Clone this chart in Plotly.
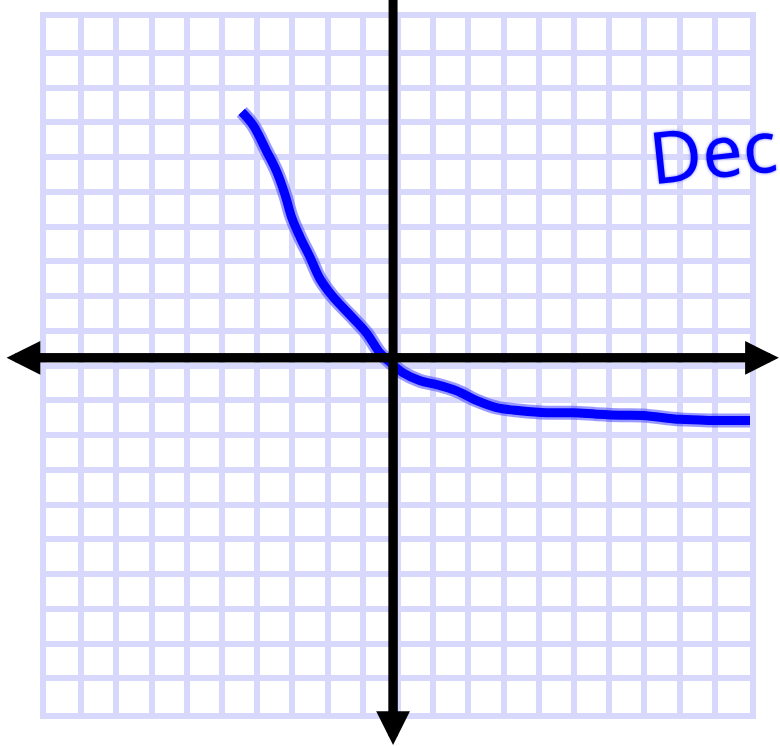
import plotly.graph_objects as go

# Hand-sketched decreasing curve on a 20x20 grid
curve_x = [-4.44, -4.12, -3.73, -3.45, -3.21, -3.02, -2.78, -2.50, -2.22, -1.85,
           -1.36, -0.89, -0.51, -0.14, 0.14, 0.63, 1.10, 1.67, 2.24, 2.80,
           3.47, 4.22, 4.97, 5.64, 6.31, 6.96, 8.01, 8.86, 10.0]
curve_y = [7.30, 6.92, 6.16, 5.59, 4.92, 4.26, 3.69, 3.12, 2.50, 1.98,
           1.45, 0.93, 0.36, 0.02, -0.21, -0.44, -0.55, -0.73, -1.01, -1.21,
           -1.30, -1.36, -1.36, -1.40, -1.43, -1.44, -1.55, -1.58, -1.58]

grid_range = [-10, 10]
label_text = "Dec"

GRID = "rgb(216,216,252)"
INK = "rgb(0,0,255)"

fig = go.Figure()

# soft halo under the ink stroke
fig.add_trace(go.Scatter(x=curve_x, y=curve_y, mode="lines",
                         line=dict(color="rgba(70,70,255,0.55)", width=14, shape="spline", smoothing=1.0),
                         hoverinfo="skip", showlegend=False))
fig.add_trace(go.Scatter(x=curve_x, y=curve_y, mode="lines",
                         line=dict(color=INK, width=9, shape="spline", smoothing=1.0),
                         showlegend=False))

axis_common = dict(range=grid_range, dtick=1, showgrid=True, gridcolor=GRID, gridwidth=6,
                   zeroline=False, showticklabels=False, ticks="",
                   showline=True, linecolor=GRID, linewidth=6, mirror=True,
                   fixedrange=True)
fig.update_xaxes(**axis_common)
fig.update_yaxes(**axis_common)

# black hand-drawn axes with arrowheads (paper coordinates extend past the grid)
ax0 = 0.493     # vertical axis position (paper x)
ay0 = 0.511     # horizontal axis position (paper y)
arrow = dict(showarrow=True, arrowhead=2, arrowsize=0.75, arrowwidth=9,
             arrowcolor="black", xref="paper", yref="paper", text="",
             axref="pixel", ayref="pixel")
fig.add_annotation(x=-0.056, y=ay0, ax=390, ay=0, **arrow)
fig.add_annotation(x=1.041, y=ay0, ax=-390, ay=0, **arrow)
fig.add_annotation(x=ax0, y=-0.046, ax=0, ay=-380, **arrow)
fig.add_shape(type="line", xref="paper", yref="paper", x0=-0.03, x1=1.02, y0=ay0, y1=ay0,
              line=dict(color="black", width=9))
fig.add_shape(type="line", xref="paper", yref="paper", x0=ax0, x1=ax0, y0=-0.02, y1=1.03,
              line=dict(color="black", width=9))

# handwritten label
fig.add_annotation(x=0.846, y=0.81, xref="paper", yref="paper", text=label_text,
                   showarrow=False, xanchor="left", yanchor="middle", textangle=-6,
                   font=dict(family="Noto Sans", size=72, color=INK,
                             shadow="0 0 3px rgba(60,60,255,0.7)"))

fig.update_layout(width=780, height=746,
                  margin=dict(l=46, r=30, t=12, b=33),
                  paper_bgcolor="white", plot_bgcolor="white")

fig.write_html("out.html")
